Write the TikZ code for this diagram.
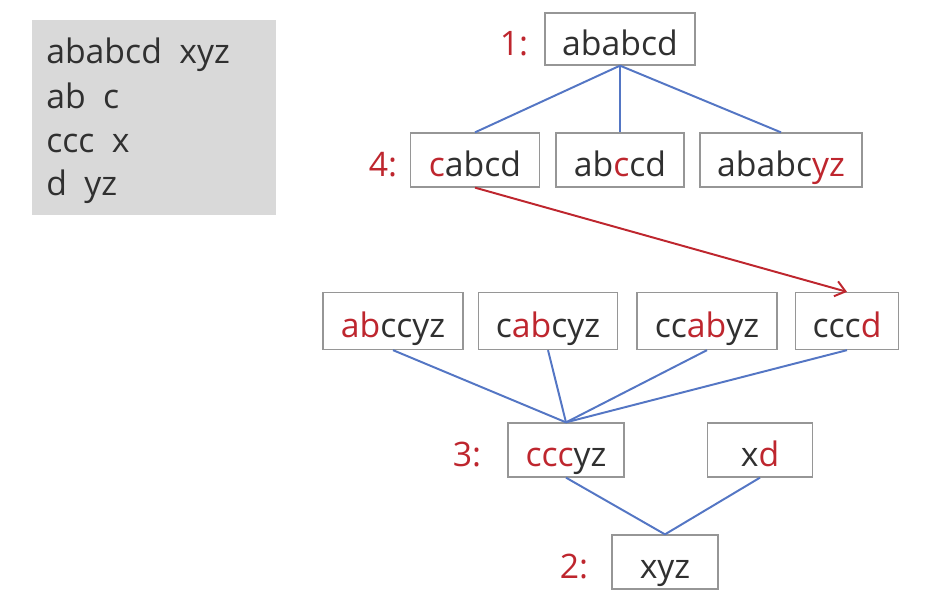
\documentclass[tikz,border=0pt]{standalone}
\usepackage{fontspec}
\setmainfont{Open Sans}
\usepackage{tikz}
\usetikzlibrary{arrows, arrows.meta, positioning}
\definecolor{hired}{RGB}{190,38,46}
\definecolor{edgeblue}{RGB}{84,118,196}
\definecolor{boxgray}{RGB}{150,150,150}
\definecolor{inkgray}{RGB}{48,48,48}
\definecolor{panelgray}{RGB}{217,217,217}
\newcommand{\hl}[1]{\textcolor{hired}{#1}}
\begin{document}
\begin{tikzpicture}[x=0.025cm, y=-0.025cm,
  every node/.style={font=\fontsize{24}{28}\selectfont, text=inkgray},
  strbox/.style={draw=boxgray, line width=0.9pt, inner sep=0pt, minimum height=1.35cm,
    text height=0.8cm, text depth=0cm},
  idx/.style={text=hired, inner sep=0pt, text height=0.8cm, text depth=0cm},
  link/.style={draw=edgeblue, line width=1.4pt},
  jump/.style={draw=hired, line width=1.4pt, -{Straight Barb[length=7pt, width=11pt]}}]
\useasboundingbox (0, 0) rectangle (949, 607);
% input block
\fill[panelgray] (32, 20) rectangle (276, 215);
\node[anchor=base west, inner sep=0pt] (l1) at (46, 63) {ababcd\ \ xyz};
\node[anchor=base west, inner sep=0pt] (l2) at (46, 108) {ab\ \ c};
\node[anchor=base west, inner sep=0pt] (l3) at (46, 152) {ccc\ \ x};
\node[anchor=base west, inner sep=0pt] (l4) at (46, 195) {d\ \ yz};
% tree
\node[strbox, minimum width=3.75cm, minimum height=1.3cm] (R) at (620, 39) {ababcd};
\node[strbox, minimum width=3.225cm] (A1) at (475, 160) {\hl{c}abcd};
\node[strbox, minimum width=3.2cm] (A2) at (620, 160) {ab\hl{c}cd};
\node[strbox, minimum width=4.05cm] (A3) at (781, 160) {ababc\hl{yz}};
\node[strbox, minimum width=3.5cm, minimum height=1.425cm] (B1) at (393, 321) {\hl{ab}ccyz};
\node[strbox, minimum width=3.475cm, minimum height=1.425cm] (B2) at (548, 321) {c\hl{ab}cyz};
\node[strbox, minimum width=3.5cm, minimum height=1.425cm] (B3) at (707, 321) {cc\hl{ab}yz};
\node[strbox, minimum width=2.575cm, minimum height=1.425cm] (B4) at (847, 321) {ccc\hl{d}};
\node[strbox, minimum width=2.9cm] (C1) at (566, 450) {\hl{ccc}yz};
\node[strbox, minimum width=2.625cm] (C2) at (760, 450) {x\hl{d}};
\node[strbox, minimum width=2.65cm] (D) at (665, 562) {xyz};
% order labels
\node[idx] (n1) at (514, 39) {1:};
\node[idx] (n4) at (383, 160) {4:};
\node[idx] (n3) at (467, 450) {3:};
\node[idx] (n2) at (574, 562) {2:};
% edges
\draw[link] (R.south) -- (A1.north);
\draw[link] (R.south) -- (A2.north);
\draw[link] (R.south) -- (A3.north);
\draw[jump] (A1.south) -- (B4.north);
\draw[link] (B1.south) -- (C1.north);
\draw[link] (B2.south) -- (C1.north);
\draw[link] (B3.south) -- (C1.north);
\draw[link] (B4.south) -- (C1.north);
\draw[link] (C1.south) -- (D.north);
\draw[link] (C2.south) -- (D.north);
\end{tikzpicture}
\end{document}
